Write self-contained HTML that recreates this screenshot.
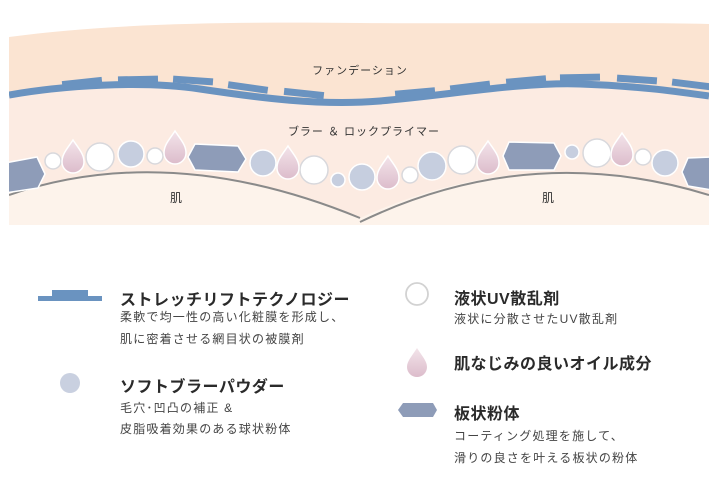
<!DOCTYPE html>
<html><head><meta charset="utf-8"><style>
body{margin:0;width:720px;height:494px;background:#fff;overflow:hidden;font-family:"Liberation Sans","Noto Sans CJK JP",sans-serif;}
svg{position:absolute;left:0;top:0}
.t{position:absolute;color:#333;white-space:nowrap;font-family:"Liberation Sans","Noto Sans CJK JP",sans-serif}
.h{font-size:16px;letter-spacing:0.5px;color:#2a2a2a;font-weight:bold}
.s{font-size:12px;letter-spacing:1.2px;color:#444}
</style></head><body>
<svg width="720" height="494" viewBox="0 0 720 494">
<defs>
<linearGradient id="dg" x1="0" y1="0" x2="0" y2="1"><stop offset="0" stop-color="#f3e4ea"/><stop offset="1" stop-color="#dcbccb"/></linearGradient>
<clipPath id="c"><path d="M9,37 C120,22 250,22 360,23 C500,24 620,22 709,24 L709,225 L9,225 Z"/></clipPath>
<g id="drop"><path d="M0,-17 C6,-8 11,-3 11,5 A11,11 0 0 1 -11,5 C-11,-3 -6,-8 0,-17 Z" fill="url(#dg)" stroke="#fff" stroke-width="1.5"/></g>
</defs>
<g clip-path="url(#c)">
<rect x="0" y="0" width="720" height="230" fill="#fbe4d2"/>
<path d="M9,95 C60,86 140,80 200,89 C260,98 320,106 380,101 C450,95 520,82 580,84 C640,86 680,92 709,96 L709,230 L9,230 Z" fill="#fcebe2"/>
<path d="M9,195 Q170,140 360,218 Q530,140 709,195 L709,230 L9,230 Z" fill="#fdf3eb"/>
<path d="M9,195 Q170,140 360,218" fill="none" stroke="#8a8a8a" stroke-width="2"/>
<path d="M360,222 Q530,140 709,195" fill="none" stroke="#8a8a8a" stroke-width="2"/>
<path d="M9,95 C60,86 140,80 200,89 C260,98 320,106 380,101 C450,95 520,82 580,84 C640,86 680,92 709,96" fill="none" stroke="#6a93c0" stroke-width="7"/>
<g fill="#6a93c0">
<rect x="62" y="79" width="40" height="7" transform="rotate(-6 82 82)"/>
<rect x="118" y="76" width="40" height="7" transform="rotate(-1 138 80)"/>
<rect x="173" y="77" width="40" height="7" transform="rotate(4 193 81)"/>
<rect x="228" y="84" width="40" height="7" transform="rotate(8 248 87)"/>
<rect x="284" y="90" width="40" height="7" transform="rotate(6 304 93)"/>
<rect x="395" y="89" width="40" height="7" transform="rotate(-5 415 92)"/>
<rect x="450" y="83" width="40" height="7" transform="rotate(-7 470 86)"/>
<rect x="506" y="77" width="40" height="7" transform="rotate(-5 526 80)"/>
<rect x="560" y="74" width="40" height="7" transform="rotate(-1 580 78)"/>
<rect x="617" y="76" width="40" height="7" transform="rotate(4 637 79)"/>
<rect x="672" y="81" width="40" height="7" transform="rotate(7 692 84)"/>
</g>
<g stroke="#fff" stroke-width="1.5">
<polygon points="5,163 37,157 45,174 38,188 5,193" fill="#8e9cb8"/>
<polygon points="195,144 238,146 246,159 238,172 195,170 188,157" fill="#8e9cb8"/>
<polygon points="509,142 554,143 561,156 554,170 509,170 503,156" fill="#8e9cb8"/>
<polygon points="688,158 712,157 712,190 688,186 682,172" fill="#8e9cb8"/>
</g>
<g stroke="#d8d8dc" stroke-width="1.5">
<circle cx="53" cy="161" r="8" fill="#fff"/>
<circle cx="100" cy="157" r="14" fill="#fff"/>
<circle cx="155" cy="156" r="8" fill="#fff"/>
<circle cx="314" cy="170" r="14" fill="#fff"/>
<circle cx="410" cy="175" r="8" fill="#fff"/>
<circle cx="462" cy="160" r="14" fill="#fff"/>
<circle cx="597" cy="153" r="14" fill="#fff"/>
<circle cx="643" cy="157" r="8" fill="#fff"/>
</g>
<g stroke="#fff" stroke-width="1.5" fill="#c6cedf">
<circle cx="131" cy="154" r="13"/>
<circle cx="263" cy="163" r="13"/>
<circle cx="338" cy="180" r="7"/>
<circle cx="362" cy="177" r="13"/>
<circle cx="432" cy="166" r="14"/>
<circle cx="572" cy="152" r="7"/>
<circle cx="665" cy="163" r="13"/>
</g>
<use href="#drop" x="73" y="157"/>
<use href="#drop" x="175" y="148"/>
<use href="#drop" x="288" y="163"/>
<use href="#drop" x="388" y="173"/>
<use href="#drop" x="488" y="158"/>
<use href="#drop" x="622" y="150"/>
</g>
<rect x="38" y="296" width="64" height="5" fill="#6a93c0"/>
<rect x="52" y="290" width="36" height="7" fill="#6a93c0"/>
<circle cx="70" cy="383" r="10" fill="#c9d0e0"/>
<circle cx="417" cy="294" r="11" fill="#fff" stroke="#d2d2d2" stroke-width="1.8"/>
<path d="M417,348 C422,356 427,361 427,367 A10,10 0 0 1 407,367 C407,361 412,356 417,348 Z" fill="url(#dg)"/>
<polygon points="403,403 433,403 437,410 433,417 403,417 398,410" fill="#8e9cb8"/>
</svg>
<div class="t" style="left:0;width:720px;text-align:center;top:62px;font-size:11px;color:#333;letter-spacing:1px">ファンデーション</div>
<div class="t" style="left:4px;width:720px;text-align:center;top:123px;font-size:11px;color:#333;letter-spacing:1px">ブラー ＆ ロックプライマー</div>
<div class="t" style="left:170px;top:189px;font-size:12px">肌</div>
<div class="t" style="left:542px;top:189px;font-size:12px">肌</div>

<div class="t h" style="left:120px;top:286px">ストレッチリフトテクノロジー</div>
<div class="t s" style="left:120px;top:308px">柔軟で均一性の高い化粧膜を形成し、</div>
<div class="t s" style="left:120px;top:330px">肌に密着させる網目状の被膜剤</div>
<div class="t h" style="left:120px;top:373px">ソフトブラーパウダー</div>
<div class="t s" style="left:120px;top:399px">毛穴･凹凸の補正 &amp;</div>
<div class="t s" style="left:120px;top:420px">皮脂吸着効果のある球状粉体</div>

<div class="t h" style="left:454px;top:285px">液状UV散乱剤</div>
<div class="t s" style="left:454px;top:310px">液状に分散させたUV散乱剤</div>
<div class="t h" style="left:454px;top:350px">肌なじみの良いオイル成分</div>
<div class="t h" style="left:454px;top:400px">板状粉体</div>
<div class="t s" style="left:454px;top:427px">コーティング処理を施して、</div>
<div class="t s" style="left:454px;top:449px">滑りの良さを叶える板状の粉体</div>
</body></html>
